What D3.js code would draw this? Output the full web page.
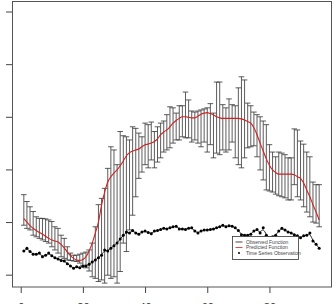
<!DOCTYPE html>
<html>
<head>
<meta charset="utf-8">
<script src="https://cdn.jsdelivr.net/npm/d3@7"></script>
<style>
  body { margin: 0; background: #fff; }
  svg { display: block; font-family: "Liberation Sans", Arial, sans-serif; }
</style>
</head>
<body>
<svg id="chart" width="334" height="304"></svg>
<script>
// time index 1..96
let times = d3.range(1, 97);

// time series observations (black dots)
let observed = [0.45, 0.50, 0.44, 0.39, 0.39, 0.41, 0.34, 0.37, 0.41, 0.36,
  0.32, 0.30, 0.27, 0.26, 0.21, 0.165, 0.12, 0.15, 0.13, 0.16,
  0.165, 0.20, 0.24, 0.28, 0.32, 0.37, 0.47, 0.45, 0.50, 0.55,
  0.60, 0.68, 0.75, 0.81, 0.79, 0.84, 0.79, 0.77, 0.81, 0.83,
  0.80, 0.78, 0.83, 0.84, 0.86, 0.88, 0.87, 0.89, 0.91, 0.92,
  0.87, 0.87, 0.86, 0.88, 0.89, 0.83, 0.79, 0.83, 0.85, 0.85,
  0.86, 0.87, 0.89, 0.91, 0.94, 0.91, 0.93, 0.92, 0.89, 0.84,
  0.76, 0.75, 0.75, 0.77, 0.83, 0.86, 0.79, 0.89, 0.75, 0.70,
  0.72, 0.75, 0.83, 0.88, 0.85, 0.81, 0.79, 0.76, 0.74, 0.70,
  0.74, 0.75, 0.79, 0.64, 0.58, 0.50];

// predicted function (red line)
let predicted = [1.065, 1.00, 0.93, 0.88, 0.84, 0.80, 0.77, 0.73, 0.69, 0.66,
  0.64, 0.62, 0.57, 0.51, 0.43, 0.36, 0.31, 0.28, 0.27, 0.29,
  0.34, 0.45, 0.60, 0.79, 1.00, 1.32, 1.57, 1.76, 1.86, 1.93,
  1.99, 2.07, 2.16, 2.26, 2.32, 2.35, 2.37, 2.39, 2.43, 2.47,
  2.48, 2.50, 2.53, 2.58, 2.66, 2.71, 2.75, 2.81, 2.88, 2.93,
  2.97, 3.00, 3.00, 2.99, 2.98, 2.98, 3.01, 3.05, 3.07, 3.08,
  3.06, 3.04, 3.00, 2.98, 2.97, 2.97, 2.97, 2.97, 2.97, 2.97,
  2.96, 2.94, 2.91, 2.88, 2.79, 2.66, 2.50, 2.35, 2.20, 2.08,
  1.99, 1.94, 1.91, 1.91, 1.91, 1.91, 1.91, 1.90, 1.86, 1.83,
  1.74, 1.61, 1.48, 1.33, 1.19, 1.04];

// error bar limits
let upper = [1.52, 1.39, 1.29, 1.20, 1.10, 1.07, 1.07, 1.06, 1.04, 1.01,
  0.91, 0.88, 0.75, 0.69, 0.53, 0.41, 0.37, 0.37, 0.39, 0.41,
  0.43, 0.47, 0.60, 0.91, 1.33, 1.45, 1.64, 2.02, 2.43, 2.37,
  2.09, 2.72, 2.64, 2.62, 2.56, 2.81, 2.78, 2.69, 2.62, 2.88,
  2.85, 2.90, 2.72, 2.81, 2.88, 2.92, 3.04, 3.19, 3.17, 3.07,
  3.21, 3.21, 3.47, 3.32, 3.11, 3.09, 3.11, 3.13, 3.15, 3.17,
  3.25, 3.07, 3.66, 3.66, 3.23, 3.17, 3.34, 3.23, 3.21, 3.55,
  3.76, 3.70, 3.26, 3.21, 3.09, 3.04, 3.00, 2.92, 2.85, 2.47,
  2.33, 2.24, 2.33, 2.31, 2.28, 2.22, 2.22, 2.77, 2.75, 2.54,
  2.48, 2.33, 2.24, 1.76, 1.71, 1.71];

let lower = [0.94, 0.88, 0.85, 0.75, 0.72, 0.69, 0.66, 0.63, 0.60, 0.53,
  0.47, 0.41, 0.34, 0.31, 0.28, 0.27, 0.26, 0.25, 0.22, 0.18,
  0.13, 0.07, -0.04, -0.07, -0.13, -0.10, -0.16, -0.01, -0.07, -0.04,
  -0.16, 0.06, 0.60, 0.44, 0.85, 1.13, 1.48, 1.83, 1.95, 2.09,
  2.03, 2.18, 2.03, 2.14, 2.22, 2.33, 2.37, 2.41, 2.50, 2.56,
  2.56, 2.62, 2.60, 2.60, 2.52, 2.56, 2.50, 2.43, 2.52, 2.33,
  2.47, 2.22, 2.31, 2.28, 2.37, 2.33, 2.37, 2.52, 2.22, 2.09,
  2.03, 2.22, 2.41, 2.43, 2.45, 2.24, 1.99, 1.80, 1.61, 1.59,
  1.57, 1.53, 1.50, 1.48, 1.46, 1.42, 1.42, 1.71, 1.48, 1.42,
  1.29, 1.19, 1.10, 1.00, 0.98, 0.91];

let xTicks = [0, 20, 40, 60, 80];
let yTicks = [0, 1, 2, 3, 4, 5];
let legendLabels = ["Observed Function", "Predicted Function", "Time Series Observation"];

/**
 * Draw the chart
 */
function draw() {
  let svg = d3.select("#chart");
  let left = 12, right = 331, top = 1, bottom = 287;

  let data = times.map((t, i) => ({
    t: t, obs: observed[i], pred: predicted[i], hi: upper[i], lo: lower[i]
  }));

  let xScale = d3.scaleLinear()
    .domain([-2.8, 99.8])
    .range([left, right]);
  let yScale = d3.scaleLinear()
    .domain([-0.234, 5.2])
    .range([bottom, top]);

  // axes
  svg.append("g")
    .attr("transform", "translate(0," + bottom + ")")
    .call(d3.axisBottom(xScale).tickValues(xTicks).tickSize(6).tickPadding(10))
    .call(g => g.select(".domain").remove())
    .call(g => g.selectAll("line").attr("stroke", "#444"))
    .call(g => g.selectAll("text").attr("font-size", 11).attr("fill", "#333"));

  svg.append("g")
    .attr("transform", "translate(" + left + ",0)")
    .call(d3.axisLeft(yScale).tickValues(yTicks).tickSize(6).tickFormat(""))
    .call(g => g.select(".domain").remove())
    .call(g => g.selectAll("line").attr("stroke", "#444"));

  // error bars
  let cap = 2.8;
  let bars = svg.append("g")
    .attr("stroke", "#333")
    .attr("stroke-width", 0.8)
    .selectAll("g")
    .data(data)
    .enter()
    .append("g");

  bars.append("line")
    .attr("x1", d => xScale(d.t))
    .attr("x2", d => xScale(d.t))
    .attr("y1", d => yScale(d.hi))
    .attr("y2", d => yScale(d.lo));
  bars.append("line")
    .attr("x1", d => xScale(d.t) - cap)
    .attr("x2", d => xScale(d.t) + cap)
    .attr("y1", d => yScale(d.hi))
    .attr("y2", d => yScale(d.hi));
  bars.append("line")
    .attr("x1", d => xScale(d.t) - cap)
    .attr("x2", d => xScale(d.t) + cap)
    .attr("y1", d => yScale(d.lo))
    .attr("y2", d => yScale(d.lo));

  // predicted function
  let predLine = d3.line()
    .x(d => xScale(d.t))
    .y(d => yScale(d.pred))
    .curve(d3.curveMonotoneX);
  svg.append("path")
    .datum(data)
    .attr("d", predLine)
    .attr("fill", "none")
    .attr("stroke", "#cc2222")
    .attr("stroke-width", 1.1);

  // observed function, smoothed through the observations
  let obsLine = d3.line()
    .x(d => xScale(d.t))
    .y(d => yScale(d.obs))
    .curve(d3.curveBasis);
  svg.append("path")
    .datum(data)
    .attr("d", obsLine)
    .attr("fill", "none")
    .attr("stroke", "#111")
    .attr("stroke-width", 0.9);

  svg.append("g")
    .selectAll("circle")
    .data(data)
    .enter()
    .append("circle")
    .attr("cx", d => xScale(d.t))
    .attr("cy", d => yScale(d.obs))
    .attr("r", 1.5)
    .attr("fill", "#000");

  // frame
  svg.append("rect")
    .attr("x", left + 0.5)
    .attr("y", top + 0.5)
    .attr("width", right - left)
    .attr("height", bottom - top - 0.5)
    .attr("fill", "none")
    .attr("stroke", "#555");

  // legend
  let legend = svg.append("g").attr("transform", "translate(232.5,236.5)");
  legend.append("rect")
    .attr("width", 66)
    .attr("height", 23)
    .attr("fill", "#fff")
    .attr("stroke", "#333")
    .attr("stroke-width", 0.8);
  let items = legend.selectAll("g.item")
    .data(legendLabels)
    .enter()
    .append("g")
    .attr("class", "item")
    .attr("transform", (d, i) => "translate(0," + (5.5 + i * 5.5) + ")");
  items.filter((d, i) => i < 2)
    .append("line")
    .attr("x1", 3).attr("x2", 10)
    .attr("stroke", (d, i) => i == 0 ? "#111" : "#cc2222")
    .attr("stroke-width", 0.8);
  items.filter((d, i) => i == 2)
    .append("circle")
    .attr("cx", 6.5)
    .attr("r", 1)
    .attr("fill", "#000");
  items.append("text")
    .attr("x", 13.5)
    .attr("dy", "0.35em")
    .attr("font-size", 5)
    .attr("fill", "#444")
    .text(d => d);
}

draw();
</script>
</body>
</html>
